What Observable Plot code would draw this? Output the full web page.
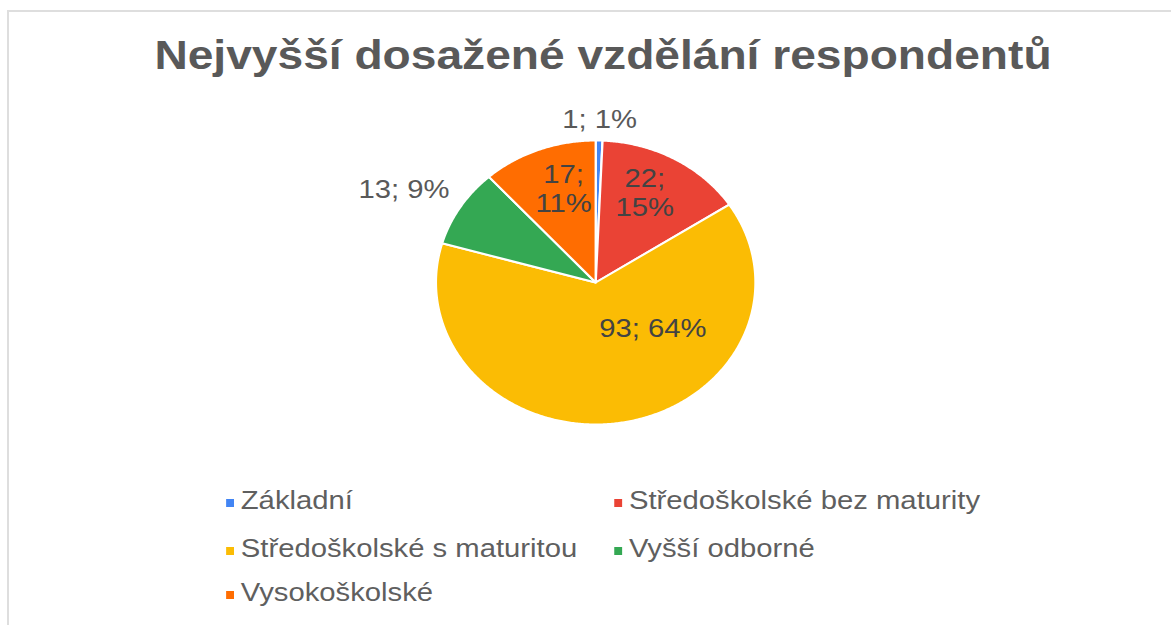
<!DOCTYPE html>
<html>
<head>
<meta charset="utf-8">
<script src="https://cdn.jsdelivr.net/npm/d3@7"></script>
<script src="https://cdn.jsdelivr.net/npm/@observablehq/plot@0.6"></script>
<style>
  html, body { margin: 0; padding: 0; background: #fff; }
  #page { position: relative; width: 1171px; height: 625px; overflow: hidden; background: #fff; }
  #border { position: absolute; left: 7px; top: 10px; right: -5px; bottom: -5px; border-left: 2px solid #dedede; border-top: 2px solid #dedede; }
  #inner { position: absolute; left: 0; top: 0; width: 1041px; height: 625px; transform: scaleX(1.125); transform-origin: 0 0; font-family: "Liberation Sans", Arial, sans-serif; }
  #chart { position: absolute; left: 0; top: 0; }
  #title { position: absolute; left: 0; width: 1072px; top: 35px; text-align: center; font-size: 41px; line-height: 1; font-weight: bold; color: #595959; }
  .leg { position: absolute; font-size: 26px; line-height: 1; color: #5f5f5f; white-space: nowrap; }
  .sw { position: absolute; width: 7px; height: 8px; }
</style>
</head>
<body>
<div id="page">
  <div id="border"></div>
  <div id="inner">
    <div id="chart"></div>
    <div id="title"></div>
    <div id="legend"></div>
  </div>
</div>
<script>
// ---- data ----
const title = "Nejvyšší dosažené vzdělání respondentů";
const categories = ["Základní", "Středoškolské bez maturity", "Středoškolské s maturitou", "Vyšší odborné", "Vysokoškolské"];
const counts = [1, 22, 93, 13, 17];
const percents = [1, 15, 64, 9, 11];
const colors = ["#4285F4", "#EA4335", "#FBBC04", "#34A853", "#FF6D01"];

// ---- layout (style only) ----
const cx = 529, cy = 282, R = 142;
// label placement: radius factor, pixel nudges, wrap into two lines
const labelPlacement = [
  {r: 1.155, nx: 0, ny: 0, wrap: false, inside: false},
  {r: 0.68, nx: -4, ny: -6, wrap: true, inside: true},
  {r: 0.32, nx: 44, ny: 0, wrap: false, inside: true},
  {r: 1.3, nx: -14, ny: 4, wrap: false, inside: false},
  {r: 0.68, nx: 6, ny: -4, wrap: true, inside: true}
];

const total = d3.sum(counts);
const slices = [];
const labels = [];
let acc = 0;
categories.forEach((cat, i) => {
  const a0 = acc / total * 2 * Math.PI;
  acc += counts[i];
  const a1 = acc / total * 2 * Math.PI;
  const n = Math.max(2, Math.ceil((a1 - a0) / (Math.PI / 360)));
  slices.push({cat, x: 0, y: 0});
  for (let k = 0; k <= n; k++) {
    const a = a0 + (a1 - a0) * k / n;
    slices.push({cat, x: Math.sin(a), y: Math.cos(a)});
  }
  slices.push({cat, x: 0, y: 0});
  const p = labelPlacement[i];
  const am = (a0 + a1) / 2;
  labels.push({
    cat,
    x: p.r * Math.sin(am) + p.nx / R,
    y: p.r * Math.cos(am) - p.ny / R,
    text: p.wrap ? `${counts[i]};\n${percents[i]}%` : `${counts[i]}; ${percents[i]}%`,
    inside: p.inside
  });
});

const chart = Plot.plot({
  width: 1041,
  height: 625,
  margin: 0,
  x: {domain: [-1, 1], range: [cx - R, cx + R], axis: null},
  y: {domain: [-1, 1], range: [cy + R, cy - R], axis: null},
  color: {domain: categories, range: colors},
  style: {background: "transparent", fontFamily: "'Liberation Sans', Arial, sans-serif"},
  marks: [
    Plot.line(slices, {x: "x", y: "y", z: "cat", fill: "cat", stroke: "white", strokeWidth: 2, strokeLinejoin: "round", curve: "linear"}),
    Plot.text(labels, {x: "x", y: "y", text: "text", fontSize: 26, lineHeight: 1.1, fill: d => d.inside ? "#434343" : "#595959", textAnchor: "middle"})
  ]
});
document.getElementById("chart").appendChild(chart);

document.getElementById("title").textContent = title;

// legend (HTML)
const legend = document.getElementById("legend");
const colX = [201, 546];
const rowTop = [487, 535, 579];
categories.forEach((cat, i) => {
  const col = i % 2, row = Math.floor(i / 2);
  const sw = document.createElement("div");
  sw.className = "sw";
  sw.style.left = colX[col] + "px";
  sw.style.top = (rowTop[row] + 12) + "px";
  sw.style.background = colors[i];
  legend.appendChild(sw);
  const t = document.createElement("div");
  t.className = "leg";
  t.style.left = (colX[col] + 13) + "px";
  t.style.top = rowTop[row] + "px";
  t.textContent = cat;
  legend.appendChild(t);
});
</script>
</body>
</html>
